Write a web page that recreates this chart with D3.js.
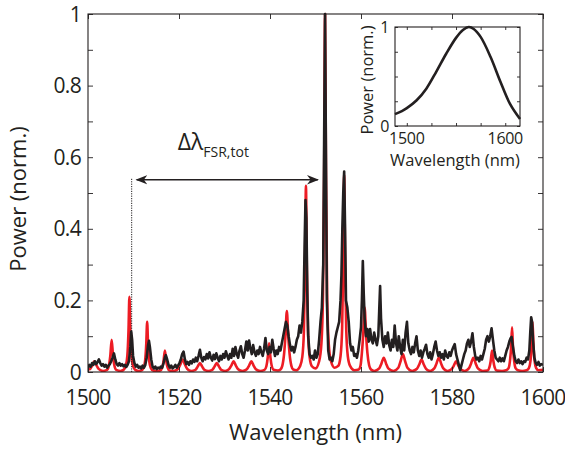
<!DOCTYPE html>
<html lang="en">
<head>
<meta charset="utf-8">
<title>Comb spectrum</title>
<script src="https://cdn.jsdelivr.net/npm/d3@7"></script>
<style>
  body { margin: 0; background: #fff; }
  text { font-family: "Open Sans", "Noto Sans", sans-serif; fill: #231f20; }
</style>
</head>
<body>
<script>
// ---- data ----
var xTicks = [1500, 1520, 1540, 1560, 1580, 1600];
var yTicks = [0, 0.2, 0.4, 0.6, 0.8, 1];
var yMinor = [0.1, 0.3, 0.5, 0.7, 0.9];

// model (red)
var modelSpectrum = [
  [1500.0,.008],[1500.4,.008],[1500.9,.018],[1501.4,.03],[1501.9,.018],[1502.4,.008],[1503.3,.003],
  [1504.2,.006],[1504.6,.018],[1504.9,.045],[1505.2,.09],[1505.5,.045],[1505.8,.018],[1506.2,.006],[1507.15,.003],
  [1507.8,.006],[1508.3,.017],[1508.65,.046],[1508.9,.115],[1509.1,.21],[1509.3,.115],[1509.55,.046],[1509.9,.017],[1510.4,.006],[1511.05,.003],
  [1511.7,.004],[1512.2,.011],[1512.55,.031],[1512.8,.077],[1513.0,.14],[1513.2,.077],[1513.45,.031],[1513.8,.011],[1514.3,.004],[1514.95,.003],
  [1515.9,.004],[1516.3,.012],[1516.6,.03],[1516.9,.06],[1517.2,.03],[1517.5,.012],[1517.9,.004],[1518.85,.003],
  [1519.8,.009],[1520.3,.021],[1520.8,.035],[1521.3,.021],[1521.8,.009],[1522.7,.003],
  [1523.6,.006],[1524.1,.015],[1524.6,.025],[1525.1,.015],[1525.6,.006],[1526.45,.003],
  [1527.3,.006],[1527.8,.015],[1528.3,.025],[1528.8,.015],[1529.3,.006],[1530.15,.003],
  [1531.0,.008],[1531.5,.018],[1532.0,.03],[1532.5,.018],[1533.0,.008],[1533.95,.003],
  [1534.9,.008],[1535.4,.018],[1535.9,.03],[1536.4,.018],[1536.9,.008],[1537.85,.003],
  [1538.8,.006],[1539.2,.016],[1539.5,.04],[1539.8,.08],[1540.1,.04],[1540.4,.016],[1540.8,.006],[1541.75,.004],
  [1542.3,.007],[1542.7,.017],[1543.1,.051],[1543.4,.102],[1543.7,.17],[1544.0,.102],[1544.3,.051],[1544.7,.017],[1545.1,.007],[1545.8,.005],
  [1546.6,.016],[1547.1,.042],[1547.45,.114],[1547.7,.286],[1547.9,.52],[1548.1,.286],[1548.35,.114],[1548.7,.042],[1549.2,.016],[1550.0,.01],
  [1550.8,.03],[1551.3,.08],[1551.65,.22],[1551.9,.55],[1552.1,1.0],[1552.3,.55],[1552.55,.22],[1552.9,.08],[1553.4,.03],[1554.2,.012],
  [1555.0,.017],[1555.5,.044],[1555.85,.121],[1556.1,.303],[1556.3,.55],[1556.5,.303],[1556.75,.121],[1557.1,.044],[1557.6,.017],[1558.55,.005],
  [1559.5,.007],[1559.9,.018],[1560.2,.054],[1560.5,.108],[1560.8,.18],[1561.1,.108],[1561.4,.054],[1561.8,.018],[1562.2,.007],[1562.9,.003],
  [1564.0,.01],[1564.5,.024],[1565.0,.04],[1565.5,.024],[1566.0,.01],[1567.1,.003],
  [1568.2,.012],[1568.7,.03],[1569.2,.05],[1569.7,.03],[1570.2,.012],[1571.25,.003],
  [1572.3,.009],[1572.8,.021],[1573.3,.035],[1573.8,.021],[1574.3,.009],[1575.2,.003],
  [1576.1,.01],[1576.6,.024],[1577.1,.04],[1577.6,.024],[1578.1,.01],[1579.0,.003],
  [1579.9,.008],[1580.4,.018],[1580.9,.03],[1581.4,.018],[1581.9,.008],[1582.8,.003],
  [1583.7,.01],[1584.2,.024],[1584.7,.04],[1585.2,.024],[1585.7,.01],[1586.75,.003],
  [1587.8,.004],[1588.2,.012],[1588.5,.03],[1588.8,.06],[1589.1,.03],[1589.4,.012],[1589.8,.004],[1591.0,.003],
  [1591.9,.005],[1592.4,.01],[1592.8,.038],[1593.0,.07],[1593.2,.125],[1593.4,.07],[1593.6,.038],[1594.0,.01],[1594.5,.005],[1595.45,.003],
  [1596.4,.005],[1596.9,.011],[1597.25,.031],[1597.5,.077],[1597.7,.14],[1597.9,.077],[1598.15,.031],[1598.5,.011],[1599.0,.005],[1600.0,.006]
];

// measurement (black)
var measSpectrum = [
  [1500.0,.012],[1500.3,.02],[1500.6,.015],[1500.9,.025],[1501.2,.02],[1501.5,.03],[1501.8,.022],[1502.1,.028],[1502.4,.035],[1502.7,.025],
  [1503.0,.018],[1503.3,.022],[1503.6,.015],[1503.9,.02],[1504.2,.012],[1504.5,.018],[1504.8,.022],[1505.1,.03],[1505.4,.04],[1505.7,.052],
  [1506.0,.035],[1506.3,.022],[1506.6,.018],[1506.9,.025],[1507.2,.018],[1507.5,.022],[1507.8,.016],[1508.1,.02],[1508.4,.014],[1508.7,.02],
  [1509.0,.03],[1509.3,.07],[1509.5,.113],[1509.7,.09],[1509.9,.045],[1510.2,.025],[1510.5,.015],[1510.8,.02],[1511.1,.012],[1511.4,.015],
  [1511.7,.01],[1512.0,.018],[1512.3,.012],[1512.6,.02],[1512.9,.04],[1513.2,.075],[1513.4,.087],[1513.6,.07],[1513.9,.035],[1514.2,.015],
  [1514.5,.01],[1514.8,.015],[1515.1,.008],[1515.4,.012],[1515.7,.01],[1516.0,.015],[1516.3,.012],[1516.6,.025],[1516.9,.04],[1517.1,.047],
  [1517.4,.035],[1517.7,.02],[1518.0,.012],[1518.3,.018],[1518.6,.01],[1518.9,.014],[1519.2,.02],[1519.5,.012],[1519.8,.018],[1520.1,.025],
  [1520.4,.035],[1520.7,.05],[1521.0,.057],[1521.3,.035],[1521.6,.022],[1521.9,.028],[1522.2,.02],[1522.5,.03],[1522.8,.024],[1523.1,.035],
  [1523.4,.028],[1523.7,.04],[1524.0,.03],[1524.3,.045],[1524.6,.062],[1524.9,.04],[1525.2,.03],[1525.5,.042],[1525.8,.035],[1526.1,.05],
  [1526.4,.038],[1526.7,.055],[1527.0,.04],[1527.3,.032],[1527.6,.048],[1527.9,.036],[1528.2,.052],[1528.5,.04],[1528.8,.03],[1529.1,.045],
  [1529.4,.035],[1529.7,.05],[1530.0,.04],[1530.3,.058],[1530.6,.045],[1530.9,.035],[1531.2,.05],[1531.5,.04],[1531.8,.065],[1532.1,.045],
  [1532.4,.07],[1532.7,.05],[1533.0,.04],[1533.3,.06],[1533.6,.072],[1533.9,.05],[1534.2,.04],[1534.5,.06],[1534.8,.085],[1535.1,.06],
  [1535.4,.088],[1535.7,.065],[1536.0,.05],[1536.3,.075],[1536.6,.055],[1536.9,.045],[1537.2,.06],[1537.5,.05],[1537.8,.07],[1538.1,.055],
  [1538.4,.045],[1538.7,.065],[1539.0,.095],[1539.3,.06],[1539.6,.05],[1539.9,.07],[1540.2,.055],[1540.5,.09],[1540.8,.065],[1541.1,.045],
  [1541.4,.06],[1541.7,.05],[1542.0,.07],[1542.3,.06],[1542.6,.08],[1542.9,.1],[1543.2,.12],[1543.5,.14],[1543.8,.13],[1544.1,.1],
  [1544.4,.075],[1544.7,.06],[1545.0,.07],[1545.3,.055],[1545.6,.07],[1545.9,.09],[1546.2,.1],[1546.5,.13],[1546.8,.11],[1547.1,.14],
  [1547.4,.2],[1547.6,.35],[1547.8,.48],[1548.0,.43],[1548.2,.22],[1548.4,.1],[1548.7,.05],[1549.0,.04],[1549.3,.045],[1549.6,.035],
  [1549.9,.06],[1550.2,.04],[1550.5,.05],[1550.8,.09],[1551.1,.14],[1551.4,.18],[1551.7,.3],[1551.9,.65],[1552.1,1.0],[1552.3,.6],
  [1552.5,.2],[1552.8,.06],[1553.1,.035],[1553.4,.04],[1553.7,.03],[1554.0,.05],[1554.3,.09],[1554.6,.11],[1554.9,.125],[1555.2,.14],
  [1555.5,.2],[1555.7,.27],[1555.9,.4],[1556.1,.5],[1556.3,.56],[1556.5,.4],[1556.7,.2],[1557.0,.18],[1557.3,.14],[1557.6,.08],
  [1557.9,.06],[1558.2,.07],[1558.5,.045],[1558.8,.05],[1559.1,.04],[1559.4,.06],[1559.7,.09],[1560.0,.125],[1560.2,.2],[1560.4,.31],
  [1560.6,.22],[1560.8,.15],[1561.1,.1],[1561.4,.12],[1561.7,.085],[1562.0,.12],[1562.3,.09],[1562.6,.08],[1562.9,.11],[1563.2,.09],
  [1563.5,.075],[1563.8,.1],[1564.0,.17],[1564.2,.24],[1564.4,.15],[1564.7,.09],[1565.0,.07],[1565.3,.1],[1565.6,.08],[1565.9,.11],
  [1566.2,.075],[1566.5,.06],[1566.8,.09],[1567.1,.07],[1567.4,.13],[1567.7,.08],[1568.0,.06],[1568.3,.1],[1568.6,.07],[1568.9,.05],
  [1569.2,.09],[1569.5,.06],[1569.8,.11],[1570.1,.14],[1570.4,.08],[1570.7,.06],[1571.0,.05],[1571.3,.07],[1571.6,.055],[1571.9,.08],
  [1572.2,.1],[1572.5,.06],[1572.8,.045],[1573.1,.06],[1573.4,.04],[1573.7,.055],[1574.0,.065],[1574.3,.076],[1574.6,.05],[1574.9,.04],
  [1575.2,.055],[1575.5,.035],[1575.8,.05],[1576.1,.07],[1576.4,.085],[1576.7,.06],[1577.0,.045],[1577.3,.055],[1577.6,.04],[1577.9,.05],
  [1578.2,.035],[1578.5,.06],[1578.8,.045],[1579.1,.04],[1579.4,.055],[1579.7,.045],[1580.0,.06],[1580.3,.07],[1580.6,.078],[1580.9,.05],
  [1581.2,.035],[1581.5,.02],[1581.8,.005],[1582.1,.02],[1582.4,.035],[1582.7,.05],[1583.0,.06],[1583.3,.08],[1583.6,.09],[1583.9,.07],
  [1584.2,.085],[1584.5,.108],[1584.8,.07],[1585.1,.045],[1585.4,.035],[1585.7,.04],[1586.0,.03],[1586.3,.045],[1586.6,.035],[1586.9,.05],
  [1587.2,.065],[1587.5,.09],[1587.8,.1],[1588.1,.085],[1588.4,.1],[1588.7,.122],[1589.0,.09],[1589.3,.06],[1589.6,.04],[1589.9,.035],
  [1590.2,.03],[1590.5,.04],[1590.8,.03],[1591.1,.038],[1591.4,.03],[1591.7,.045],[1592.0,.06],[1592.3,.07],[1592.6,.085],[1592.9,.095],
  [1593.1,.098],[1593.4,.07],[1593.7,.045],[1594.0,.03],[1594.3,.025],[1594.6,.035],[1594.9,.025],[1595.2,.03],[1595.5,.022],[1595.8,.03],
  [1596.1,.028],[1596.4,.04],[1596.7,.035],[1597.0,.06],[1597.2,.11],[1597.4,.153],[1597.6,.14],[1597.8,.09],[1598.1,.04],[1598.4,.025],
  [1598.7,.02],[1599.0,.028],[1599.3,.018],[1599.6,.022],[1600.0,.02]
];

// inset: broadband source envelope
var insetXTicks = [1500, 1600];
var insetXMinor = [1525, 1550, 1575];
var insetYTicks = [0, 1];
var insetYMinor = [0.25, 0.5, 0.75];
var envelope = [
  [1488,.12],[1495,.15],[1500,.18],[1510,.26],[1520,.38],[1530,.55],[1540,.73],[1550,.89],
  [1557,.97],[1563,1.0],[1568,.98],[1575,.9],[1585,.7],[1595,.45],[1605,.22],[1615,.07]
];

// FSR annotation (data units)
var fsrStart = 1509.6, fsrEnd = 1550.5, fsrLevel = 0.537;

//Width and height
var w = 565, h = 451;
var m = {left: 88, right: 22, top: 14, bottom: 79};
var ink = "#231f20", red = "#ed1c24";

var svg = d3.select("body").append("svg")
  .attr("width", w).attr("height", h);

var x = d3.scaleLinear().domain([1500, 1600]).range([m.left, w - m.right]);
var y = d3.scaleLinear().domain([0, 1]).range([h - m.bottom, m.top]);

var defs = svg.append("defs");
defs.append("clipPath").attr("id", "plotclip").append("rect")
  .attr("x", m.left).attr("y", m.top - 2)
  .attr("width", w - m.left - m.right).attr("height", h - m.top - m.bottom + 2);
defs.append("marker").attr("id", "ah")
  .attr("viewBox", "0 0 10 10").attr("refX", 9).attr("refY", 5)
  .attr("markerWidth", 12).attr("markerHeight", 12)
  .attr("markerUnits", "userSpaceOnUse")
  .attr("orient", "auto-start-reverse")
  .append("path").attr("d", "M0,1 L10,5 L0,9 L3,5 Z").attr("fill", ink);

// data lines
var line = d3.line().x(function(d) { return x(d[0]); }).y(function(d) { return y(d[1]); });
var plot = svg.append("g").attr("clip-path", "url(#plotclip)");
plot.append("path").datum(modelSpectrum)
  .attr("d", line.curve(d3.curveMonotoneX))
  .attr("fill", "none").attr("stroke", red).attr("stroke-width", 2.6)
  .attr("stroke-linejoin", "round");
plot.append("path").datum(measSpectrum)
  .attr("d", line.curve(d3.curveLinear))
  .attr("fill", "none").attr("stroke", ink).attr("stroke-width", 2.6)
  .attr("stroke-linejoin", "round");

// axes: ticks inward on all four sides
function tickAxes(g, xs, ys, vals, yVals, tickLen, fontSize, spacing, xLabelVals, yLabelVals, xPad, yPad) {
  var x0 = xs.range()[0], x1 = xs.range()[1], y0 = ys.range()[0], y1 = ys.range()[1];
  g.append("g").attr("transform", "translate(0," + y0 + ")")
    .call(d3.axisBottom(xs).tickValues(vals).tickSize(-tickLen).tickFormat(""))
    .call(function(a) { a.select(".domain").remove(); });
  g.append("g").attr("transform", "translate(0," + y1 + ")")
    .call(d3.axisTop(xs).tickValues(vals).tickSize(-tickLen).tickFormat(""))
    .call(function(a) { a.select(".domain").remove(); });
  g.append("g").attr("transform", "translate(" + x0 + ",0)")
    .call(d3.axisLeft(ys).tickValues(yVals).tickSize(-tickLen).tickFormat(""))
    .call(function(a) { a.select(".domain").remove(); });
  g.append("g").attr("transform", "translate(" + x1 + ",0)")
    .call(d3.axisRight(ys).tickValues(yVals).tickSize(-tickLen).tickFormat(""))
    .call(function(a) { a.select(".domain").remove(); });
  g.selectAll(".tick line").attr("stroke", ink).attr("stroke-width", 0.9);
  g.append("rect").attr("x", x0).attr("y", y1).attr("width", x1 - x0).attr("height", y0 - y1)
    .attr("fill", "none").attr("stroke", ink).attr("stroke-width", 1.1);
  g.selectAll(".xl").data(xLabelVals).enter().append("text")
    .attr("x", function(d) { return xs(d); }).attr("y", y0 + xPad)
    .attr("text-anchor", "middle").attr("font-size", fontSize)
    .attr("letter-spacing", spacing)
    .text(function(d) { return d; });
  g.selectAll(".yl").data(yLabelVals).enter().append("text")
    .attr("x", x0 - yPad).attr("y", function(d) { return ys(d); })
    .attr("dy", "0.36em").attr("text-anchor", "end").attr("font-size", fontSize)
    .attr("letter-spacing", spacing)
    .text(function(d) { return d; });
}

var axes = svg.append("g");
tickAxes(axes, x, y, xTicks, yTicks.concat(yMinor), 5, 21, -0.7, xTicks, yTicks, 33, 7);

svg.append("text").attr("x", (m.left + w - m.right) / 2).attr("y", 440)
  .attr("text-anchor", "middle").attr("font-size", 22).text("Wavelength (nm)");
svg.append("text").attr("transform", "translate(26," + 199 + ") rotate(-90)")
  .attr("text-anchor", "middle").attr("font-size", 22).text("Power (norm.)");

// FSR annotation
svg.append("line")
  .attr("x1", x(fsrStart)).attr("x2", x(fsrStart))
  .attr("y1", y(0)).attr("y2", y(fsrLevel) - 2)
  .attr("stroke", ink).attr("stroke-width", 1).attr("stroke-dasharray", "1.2,1.2");
svg.append("line")
  .attr("x1", x(fsrStart) + 5).attr("x2", x(fsrEnd))
  .attr("y1", y(fsrLevel)).attr("y2", y(fsrLevel))
  .attr("stroke", ink).attr("stroke-width", 1.4)
  .attr("marker-start", "url(#ah)").attr("marker-end", "url(#ah)");
var lab = svg.append("text").attr("x", x(fsrStart) + 46).attr("y", 150).attr("font-size", 23);
lab.append("tspan").text("Δλ");
lab.append("tspan").attr("font-size", 14).attr("dy", 7).text("FSR,tot");

// inset
var ix = d3.scaleLinear().domain([1488, 1615]).range([395, 520]);
var iy = d3.scaleLinear().domain([0, 1]).range([126, 27]);
var inset = svg.append("g");
inset.append("rect").attr("x", 395).attr("y", 27).attr("width", 125).attr("height", 99).attr("fill", "#fff");
var iline = d3.line().x(function(d) { return ix(d[0]); }).y(function(d) { return iy(d[1]); })
  .curve(d3.curveCatmullRom);
inset.append("path").datum(envelope).attr("d", iline)
  .attr("fill", "none").attr("stroke", ink).attr("stroke-width", 2.6);
tickAxes(inset, ix, iy, insetXTicks.concat(insetXMinor), insetYTicks.concat(insetYMinor), 3, 16, -0.3,
  insetXTicks, insetYTicks, 18, 6);
inset.append("text").attr("x", 455).attr("y", 166)
  .attr("text-anchor", "middle").attr("font-size", 16.5).text("Wavelength (nm)");
inset.append("text").attr("transform", "translate(373,80) rotate(-90)")
  .attr("text-anchor", "middle").attr("font-size", 16.5).text("Power (norm.)");
</script>
</body>
</html>
